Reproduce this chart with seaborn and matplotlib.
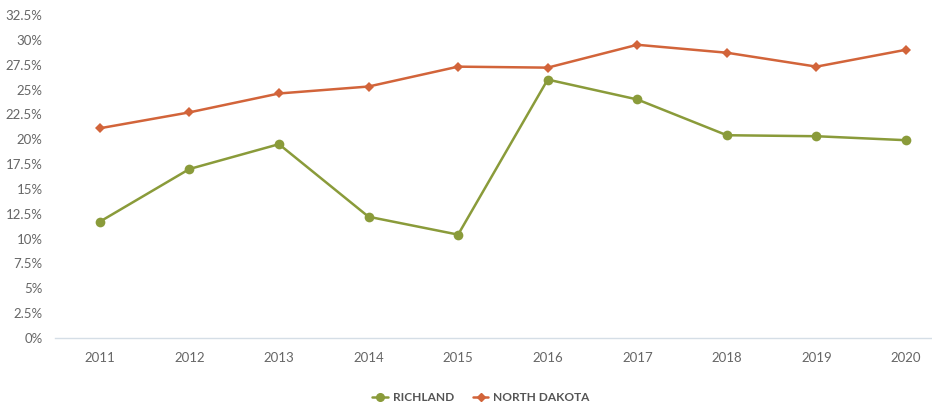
import matplotlib
matplotlib.use("Agg")
import matplotlib.pyplot as plt
from matplotlib.ticker import FuncFormatter, MultipleLocator
import seaborn as sns
import pandas as pd

years = [2011, 2012, 2013, 2014, 2015, 2016, 2017, 2018, 2019, 2020]
richland = [11.7, 17.0, 19.5, 12.2, 10.4, 26.0, 24.0, 20.4, 20.3, 19.9]
north_dakota = [21.1, 22.7, 24.6, 25.3, 27.3, 27.2, 29.5, 28.7, 27.3, 29.0]
series_names = ["RICHLAND", "NORTH DAKOTA"]
colors = ["#8A9B3A", "#D2643A"]

df = pd.concat([
    pd.DataFrame({"year": years, "value": richland, "area": series_names[0]}),
    pd.DataFrame({"year": years, "value": north_dakota, "area": series_names[1]}),
])

sns.set_theme(style="white")
plt.rcParams["font.family"] = ["Lato", "DejaVu Sans"]

fig = plt.figure(figsize=(9.32, 4.11), dpi=100)
ax = fig.add_axes([0.059, 0.1776, 0.941, 0.786])

sns.lineplot(
    data=df, x="year", y="value", hue="area", style="area",
    palette=dict(zip(series_names, colors)),
    markers={series_names[0]: "o", series_names[1]: "D"},
    dashes=False, linewidth=1.8, ax=ax, legend=False,
    markeredgewidth=0,
)
for line, ms in zip(ax.lines, [7, 5]):
    line.set_markersize(ms)

ax.set_xlim(2010.5, 2020.29)
ax.set_ylim(0, 32.5)
ax.yaxis.set_major_locator(MultipleLocator(2.5))
ax.yaxis.set_major_formatter(FuncFormatter(lambda v, _: f"{v:g}%"))
ax.set_xticks(years)
ax.set_xticklabels([str(y) for y in years])
ax.set_xlabel("")
ax.set_ylabel("")
ax.tick_params(axis="both", length=0, labelsize=9.5, colors="#666666")
ax.tick_params(axis="x", pad=10)
ax.tick_params(axis="y", pad=9)
for side in ["top", "right", "left"]:
    ax.spines[side].set_visible(False)
ax.spines["bottom"].set_color("#D5DEE6")
ax.spines["bottom"].set_linewidth(1.0)

handles = [
    plt.Line2D([], [], color=colors[0], marker="o", markersize=5.5, linewidth=1.8),
    plt.Line2D([], [], color=colors[1], marker="D", markersize=4, linewidth=1.8),
]
fig.legend(handles, series_names, loc="center", bbox_to_anchor=(0.516, 0.032),
           ncol=2, frameon=False, handlelength=1.3, columnspacing=1.6,
           handletextpad=0.4,
           prop={"weight": "bold", "size": 8.6})
for t in fig.legends[0].get_texts():
    t.set_color("#555555")

fig.savefig("out.png", dpi=100)
